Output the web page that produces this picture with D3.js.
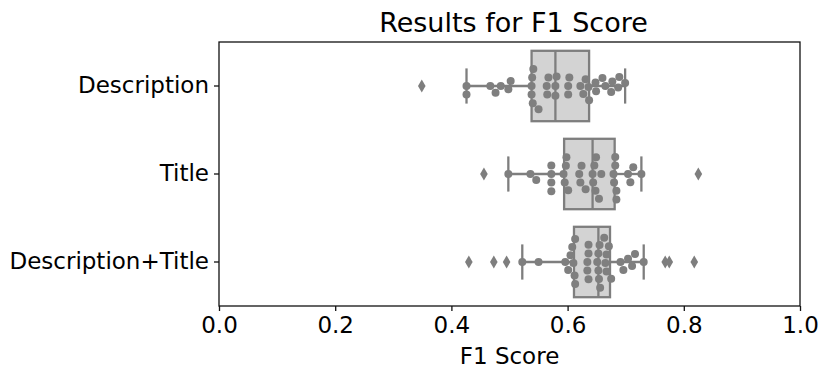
<!DOCTYPE html>
<html>
<head>
<meta charset="utf-8">
<script src="https://cdn.jsdelivr.net/npm/d3@7"></script>
<style>
  html, body { margin: 0; padding: 0; background: #fff; }
  svg { display: block; font-family: "DejaVu Sans", sans-serif; }
</style>
</head>
<body>
<svg id="chart" width="830" height="380"></svg>
<script>
// ---------- data ----------
const categories = ["Description", "Title", "Description+Title"];

const descriptionScores = [
  0.349, 0.426, 0.426, 0.467, 0.476, 0.485, 0.498, 0.502,
  0.538, 0.538, 0.539, 0.540, 0.541, 0.550, 0.564, 0.565, 0.567,
  0.579, 0.579, 0.581, 0.601, 0.601, 0.603,
  0.622, 0.627, 0.631, 0.636, 0.637, 0.648, 0.649,
  0.660, 0.665, 0.675, 0.677, 0.687, 0.689, 0.699
];
const titleScores = [
  0.456, 0.498, 0.536, 0.546, 0.572, 0.572, 0.572, 0.572,
  0.593, 0.595, 0.597, 0.598, 0.601, 0.620, 0.622, 0.624, 0.631,
  0.643, 0.644, 0.646, 0.648, 0.649, 0.654, 0.658,
  0.679, 0.680, 0.682, 0.682, 0.684, 0.684,
  0.704, 0.708, 0.713, 0.727, 0.825
];
const descriptionTitleScores = [
  0.430, 0.473, 0.495, 0.522, 0.550,
  0.596, 0.601, 0.605, 0.608, 0.610, 0.612, 0.613, 0.613,
  0.634, 0.634, 0.636, 0.636, 0.636,
  0.651, 0.653, 0.653, 0.654, 0.655, 0.656,
  0.663, 0.665, 0.667, 0.667, 0.671, 0.675, 0.691, 0.696,
  0.704, 0.711, 0.716, 0.731, 0.768, 0.775, 0.818
];
const seriesValues = [descriptionScores, titleScores, descriptionTitleScores];

const xTickValues = [0.0, 0.2, 0.4, 0.6, 0.8, 1.0];
const chartTitle = "Results for F1 Score";
const xAxisLabel = "F1 Score";

// ---------- layout ----------
const svg = d3.select("#chart");
const plot = { left: 219, right: 800, top: 42, bottom: 306 };

const x = d3.scaleLinear().domain([0, 1]).range([plot.left, plot.right]);
const y = d3.scaleBand().domain(categories).range([plot.top, plot.bottom]).padding(0);

const boxFill = "#d3d3d3";
const edgeGray = "#7e7e7e";
const pointGray = "#7f7f7f";
const boxH = y.bandwidth() * 0.8;
const capH = boxH * 0.5;
const lw = 2.3;

function stats(vals) {
  const s = vals.slice().sort(d3.ascending);
  const q1 = d3.quantileSorted(s, 0.25);
  const med = d3.quantileSorted(s, 0.5);
  const q3 = d3.quantileSorted(s, 0.75);
  const iqr = q3 - q1;
  const lo = q1 - 1.5 * iqr, hi = q3 + 1.5 * iqr;
  const inside = s.filter(v => v >= lo && v <= hi);
  return {
    q1, med, q3,
    wLo: d3.min(inside), wHi: d3.max(inside),
    inside, outliers: s.filter(v => v < lo || v > hi)
  };
}

// seaborn-like beeswarm
function beeswarm(values, d) {
  const placed = [];
  const sorted = values.slice().sort(d3.ascending);
  sorted.forEach(v => {
    const px = x(v);
    const neighbors = placed.filter(p => Math.abs(p.px - px) < d);
    const cands = [0];
    neighbors.forEach(n => {
      const dx = px - n.px;
      const dy = Math.sqrt(Math.max(d * d - dx * dx, 0)) * 1.05;
      cands.push(n.off + dy, n.off - dy);
    });
    cands.sort((a, b) => Math.abs(a) - Math.abs(b));
    let chosen = cands[0];
    for (const c of cands) {
      const ok = neighbors.every(n => {
        const dx = px - n.px, dy = c - n.off;
        return dx * dx + dy * dy >= d * d * 0.999;
      });
      if (ok) { chosen = c; break; }
    }
    placed.push({ v, px, off: chosen });
  });
  return placed;
}

const g = svg.append("g");

categories.forEach((cat, i) => {
  const st = stats(seriesValues[i]);
  const cy = y(cat) + y.bandwidth() / 2;
  const grp = g.append("g");

  grp.append("line").attr("x1", x(st.wLo)).attr("x2", x(st.q1))
    .attr("y1", cy).attr("y2", cy).attr("stroke", edgeGray).attr("stroke-width", lw);
  grp.append("line").attr("x1", x(st.q3)).attr("x2", x(st.wHi))
    .attr("y1", cy).attr("y2", cy).attr("stroke", edgeGray).attr("stroke-width", lw);
  [st.wLo, st.wHi].forEach(w => {
    grp.append("line").attr("x1", x(w)).attr("x2", x(w))
      .attr("y1", cy - capH / 2).attr("y2", cy + capH / 2)
      .attr("stroke", edgeGray).attr("stroke-width", lw);
  });
  grp.append("rect").attr("x", x(st.q1)).attr("y", cy - boxH / 2)
    .attr("width", x(st.q3) - x(st.q1)).attr("height", boxH)
    .attr("fill", boxFill).attr("stroke", edgeGray).attr("stroke-width", lw);
  grp.append("line").attr("x1", x(st.med)).attr("x2", x(st.med))
    .attr("y1", cy - boxH / 2).attr("y2", cy + boxH / 2)
    .attr("stroke", edgeGray).attr("stroke-width", lw);
  grp.selectAll("path.flier").data(st.outliers).join("path")
    .attr("class", "flier")
    .attr("d", v => {
      const px = x(v), w = 3.8, h = 6.5;
      return `M${px},${cy - h}L${px + w},${cy}L${px},${cy + h}L${px - w},${cy}Z`;
    })
    .attr("fill", edgeGray);
  const pts = beeswarm(st.inside, 8.2);
  grp.selectAll("circle").data(pts).join("circle")
    .attr("cx", p => p.px).attr("cy", p => cy + p.off)
    .attr("r", 4).attr("fill", pointGray);
});

// axes frame
svg.append("rect").attr("x", plot.left).attr("y", plot.top)
  .attr("width", plot.right - plot.left).attr("height", plot.bottom - plot.top)
  .attr("fill", "none").attr("stroke", "#111").attr("stroke-width", 1.3);

// x axis
const xAxis = d3.axisBottom(x).tickValues(xTickValues).tickFormat(d3.format(".1f"))
  .tickSize(5).tickPadding(6);
const xg = svg.append("g").attr("transform", `translate(0,${plot.bottom})`).call(xAxis);
xg.select(".domain").remove();
xg.selectAll(".tick line").attr("stroke", "#111").attr("stroke-width", 1.3);
xg.selectAll(".tick text").attr("font-size", 23).attr("fill", "#000")
  .attr("font-family", "DejaVu Sans");

// y axis
const yAxis = d3.axisLeft(y).tickSize(5).tickPadding(5);
const yg = svg.append("g").attr("transform", `translate(${plot.left},0)`).call(yAxis);
yg.select(".domain").remove();
yg.selectAll(".tick line").attr("stroke", "#111").attr("stroke-width", 1.3);
yg.selectAll(".tick text").attr("font-size", 23).attr("fill", "#000")
  .attr("font-family", "DejaVu Sans");

// title & label
svg.append("text").attr("x", (plot.left + plot.right) / 2 + 4).attr("y", 32)
  .attr("text-anchor", "middle").attr("font-size", 27).attr("fill", "#000")
  .text(chartTitle);
svg.append("text").attr("x", (plot.left + plot.right) / 2).attr("y", 364)
  .attr("text-anchor", "middle").attr("font-size", 23).attr("fill", "#000")
  .text(xAxisLabel);
</script>
</body>
</html>
